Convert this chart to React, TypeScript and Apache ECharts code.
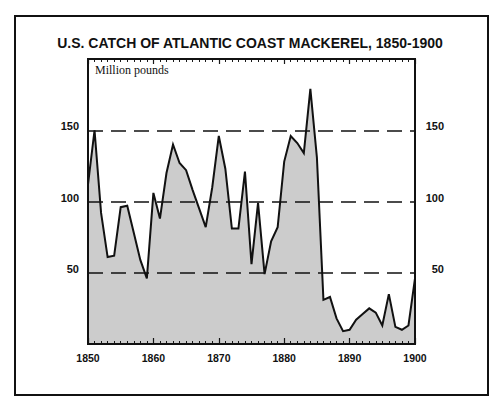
import React, { useEffect, useRef } from "react";
import * as echarts from "echarts";

const titleText = "U.S. CATCH OF ATLANTIC COAST MACKEREL, 1850-1900";
const unitLabel = "Million pounds";
const years = [
  1850, 1851, 1852, 1853, 1854, 1855, 1856, 1857, 1858, 1859,
  1860, 1861, 1862, 1863, 1864, 1865, 1866, 1867, 1868, 1869,
  1870, 1871, 1872, 1873, 1874, 1875, 1876, 1877, 1878, 1879,
  1880, 1881, 1882, 1883, 1884, 1885, 1886, 1887, 1888, 1889,
  1890, 1891, 1892, 1893, 1894, 1895, 1896, 1897, 1898, 1899, 1900,
];
const catchMillionLb = [
  112, 150, 92, 61, 62, 96, 97, 78, 59, 46,
  106, 88, 120, 140, 127, 122, 108, 95, 82, 110,
  146, 123, 81, 81, 121, 56, 99, 49, 72, 82,
  128, 146, 141, 134, 179, 131, 31, 33, 18, 9,
  10, 17, 21, 25, 22, 13, 35, 12, 10, 13, 46,
];
const yTickLabels = [50, 100, 150];
const dashedLevels = [50, 100, 150];

export default function App() {
  const ref = useRef<HTMLDivElement>(null);
  useEffect(() => {
    document.body.style.margin = "0";
    const chart = echarts.init(ref.current!, null, { renderer: "svg" });
    const ink = "#1a1a1a";
    const labelFont = {
      fontFamily: "Liberation Sans, Arial, sans-serif",
      fontWeight: "bold" as const,
      fontSize: 11,
      color: "#111",
    };
    const yLabelFormatter = (v: number) =>
      yTickLabels.includes(v) ? String(v) : "";
    chart.setOption({
      animation: false,
      title: {
        text: titleText,
        left: "center",
        top: 31,
        textStyle: {
          fontFamily: "Liberation Sans, Arial, sans-serif",
          fontWeight: "bold",
          fontSize: 14,
          color: "#111",
        },
      },
      graphic: [
        {
          type: "rect",
          shape: { x: 15, y: 16, width: 473, height: 379 },
          style: { fill: "none", stroke: "#111", lineWidth: 2 },
          z: 100,
        },
        {
          type: "rect",
          shape: { x: 88, y: 59, width: 327, height: 285 },
          style: { fill: "none", stroke: "#111", lineWidth: 2 },
          z: 100,
        },
        {
          type: "text",
          x: 95,
          y: 70,
          style: {
            text: unitLabel,
            fontFamily: "Liberation Serif, Times New Roman, serif",
            fontSize: 12,
            fill: "#111",
            verticalAlign: "middle",
          },
          z: 100,
        },
      ],
      grid: { left: 88, right: 85, top: 59, bottom: 53 },
      xAxis: [
        {
          type: "value",
          min: 1850,
          max: 1900,
          interval: 10,
          position: "bottom",
          axisLine: { show: true, onZero: false, lineStyle: { color: ink, width: 2 } },
          axisTick: { show: true, inside: true, length: 6, lineStyle: { color: ink, width: 1.2 } },
          minorTick: { show: true, splitNumber: 10, length: 3, lineStyle: { color: ink, width: 1 } },
          splitLine: { show: false },
          axisLabel: { ...labelFont, fontSize: 10.5, margin: 8, formatter: (v: number) => String(v) },
        },
        {
          type: "value",
          min: 1850,
          max: 1900,
          interval: 10,
          position: "top",
          axisLine: { show: true, onZero: false, lineStyle: { color: ink, width: 2 } },
          axisTick: { show: true, inside: true, length: 5, lineStyle: { color: ink, width: 1.2 } },
          minorTick: { show: true, splitNumber: 10, length: 3, lineStyle: { color: ink, width: 1 } },
          splitLine: { show: false },
          axisLabel: { show: false },
        },
      ],
      yAxis: [
        {
          type: "value",
          min: 0,
          max: 200,
          interval: 50,
          position: "left",
          axisLine: { show: true, onZero: false, lineStyle: { color: ink, width: 2 } },
          axisTick: { show: false },
          splitLine: { show: false },
          axisLabel: { ...labelFont, margin: 9, formatter: yLabelFormatter, verticalAlign: "bottom", lineHeight: 8 },
        },
        {
          type: "value",
          min: 0,
          max: 200,
          interval: 50,
          position: "right",
          axisLine: { show: true, onZero: false, lineStyle: { color: ink, width: 2 } },
          axisTick: { show: false },
          splitLine: { show: false },
          axisLabel: { ...labelFont, margin: 29, align: "right", formatter: yLabelFormatter, verticalAlign: "bottom", lineHeight: 8 },
        },
      ],
      series: [
        {
          type: "line",
          xAxisIndex: 0,
          yAxisIndex: 0,
          data: years.map((y, i) => [y, catchMillionLb[i]]),
          showSymbol: false,
          symbol: "none",
          lineStyle: { color: "#111", width: 2, join: "miter" },
          areaStyle: { color: "rgba(0,0,0,0.2)", opacity: 1 },
          markLine: {
            silent: true,
            symbol: "none",
            label: { show: false },
            lineStyle: { color: "#111", width: 1.5, type: [15, 8] },
            data: dashedLevels.map((v) => ({ yAxis: v })),
          },
        },
      ],
    });
    return () => chart.dispose();
  }, []);
  return <div ref={ref} style={{ width: 500, height: 397 }} />;
}
